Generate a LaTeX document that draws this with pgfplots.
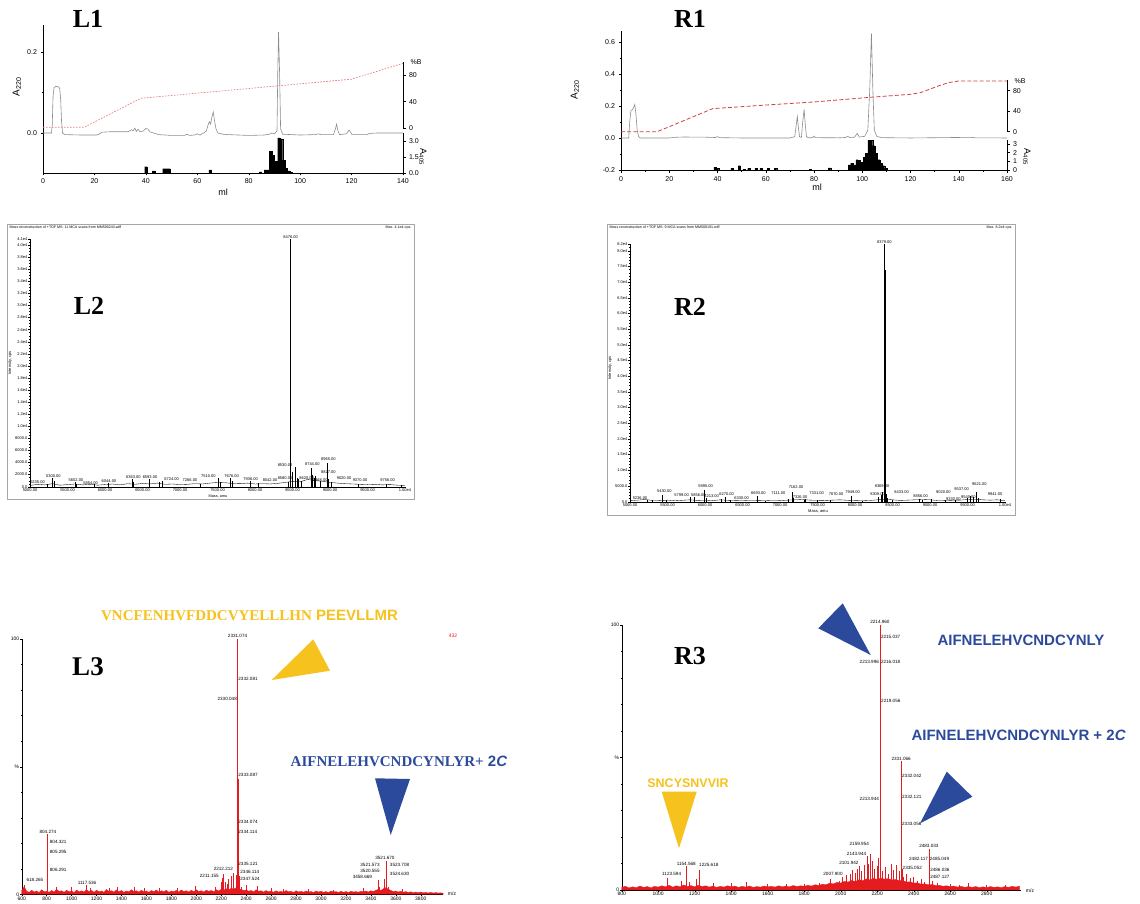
\documentclass[border=0pt]{standalone}
\usepackage{fontspec}
\setmainfont{Liberation Sans}
\newfontfamily\tnr{Liberation Serif}
\usepackage{pgfplots}
\pgfplotsset{compat=1.18}
\definecolor{chrom}{RGB}{140,140,140}
\definecolor{pinkd}{RGB}{228,128,128}
\definecolor{redd}{RGB}{205,65,65}
\definecolor{msred}{RGB}{228,28,32}
\definecolor{yel}{RGB}{245,194,30}
\definecolor{blu}{RGB}{44,74,156}
\pgfplotsset{
 base/.style={scale only axis, anchor=south west, axis line style={-,line width=0.5pt}, tick align=outside,
   major tick length=2.5pt, minor tick length=1.3pt, tick style={line width=0.4pt,black},
   /pgf/number format/assume math mode=true, /pgf/number format/set thousands separator={}, scaled ticks=false, clip=false},
 hplc/.style={base, tick label style={font=\fontsize{7}{8}\selectfont}, axis x line*=bottom, axis y line*=left},
 hplcR/.style={base, tick label style={font=\fontsize{7}{8}\selectfont}, axis y line*=right, axis x line=none, xtick=\empty},
 ms/.style={base, axis x line*=bottom, axis y line*=left, tick label style={font=\fontsize{4}{4}\selectfont},
   major tick length=1.6pt, minor tick length=0.9pt, tick style={line width=0.3pt}, axis line style={-,line width=0.4pt},
   xticklabel style={inner sep=0.6pt}, yticklabel style={inner sep=0.8pt}},
}
\tikzset{
 pl/.style={font=\fontsize{4}{4}\selectfont, inner sep=0.3pt},
 pl3/.style={font=\fontsize{4.6}{4.6}\selectfont, inner sep=0.3pt},
}
\begin{document}
\begin{tikzpicture}[x=1pt,y=1pt]
\path[use as bounding box] (0,0) rectangle (1140,-904);

%================ L1 =================
\begin{axis}[hplc, at={(43pt,-173pt)}, width=360pt, height=148pt, xmin=0, xmax=140, ymin=-0.0988, ymax=0.2667,
  xtick={0,20,...,140}, minor x tick num=1, ytick={0,0.2}, yticklabels={0.0,0.2}, minor ytick={-0.1,0.1}]
\addplot[chrom, line width=0.6pt] coordinates {(0,0.0)(3.3,0.0)(3.6,0.02)(3.9,0.09)(4.3,0.112)(5,0.115)(6,0.114)(6.5,0.11)(6.9,0.08)(7.2,0.03)(7.6,0.0)(8.5,-0.004)(15,-0.005)(21,-0.005)(22,-0.002)(23,0.002)(26,0.003)(30,0.003)(33,0.003)(34.5,0.008)(35,0.005)(35.7,0.012)(36.3,0.004)(37,0.009)(37.7,0.003)(39,0.005)(40,0.011)(40.8,0.01)(41.5,0.003)(43,0.0)(45,-0.004)(50,-0.006)(55,-0.006)(56,-0.003)(57,-0.006)(59,-0.005)(60,-0.002)(61,-0.005)(62.5,0.0)(63.5,0.005)(64.2,0.02)(64.7,0.028)(65.2,0.022)(65.7,0.04)(66.2,0.052)(66.7,0.03)(67.3,0.01)(68,0.0)(70,-0.003)(72,-0.004)(80,-0.006)(86,-0.005)(88,-0.003)(89,0.0)(90,-0.002)(91,0.005)(91.3,0.15)(91.6,0.25)(92,0.15)(92.4,0.01)(93.2,-0.003)(100,-0.005)(106,-0.004)(107,-0.002)(108,-0.004)(113,-0.004)(113.7,0.01)(114.2,0.022)(114.7,0.006)(115.3,-0.004)(118,-0.002)(119,0.007)(119.6,0.002)(120.2,-0.004)(126,-0.004)(127,-0.001)(130,0.0)(140,0.0)};
\end{axis}
\begin{axis}[hplcR, at={(43pt,-128pt)}, width=360pt, height=66pt, xmin=0, xmax=140, ymin=0, ymax=100,
  ytick={0,40,80}, minor ytick={20,60}]
\addplot[pinkd, line width=0.7pt, dash pattern=on 1.6pt off 1.4pt] coordinates {(0,1)(16,1)(38,45)(120,74)(140,98)};
\end{axis}
\begin{axis}[hplcR, at={(43pt,-173pt)}, width=360pt, height=40pt, xmin=0, xmax=140, ymin=0, ymax=3.75,
  ytick={0,1.5,3}, yticklabels={0.0,1.5,3.0}, minor ytick={0.75,2.25}]
\addplot[ybar, bar width=0.95, fill=black, draw=black, line width=0.1pt] coordinates {(40,0.6)(43,0.2)(47,0.4)(48,0.4)(49,0.4)(65,0.3)(84.5,0.1)(86.5,0.3)(87.5,0.3)(88.5,2.05)(89.5,1.66)(90.5,1.1)(91.7,3.3)(92.7,3.2)(93.7,1.2)(94.6,0.45)(95.5,0.2)(96.5,0.08)};
\end{axis}
\node[font=\tnr\bfseries\fontsize{26}{26}\selectfont] at (88,-19) {L1};
\node[rotate=90, font=\fontsize{10}{10}\selectfont] at (17,-87) {A\textsubscript{220}};
\node[rotate=-90, font=\fontsize{9}{9}\selectfont] at (423,-157) {A\textsubscript{405}};
\node[font=\fontsize{7}{7}\selectfont, anchor=west] at (407,-62) {\%B};
\node[font=\fontsize{9}{9}\selectfont] at (223,-192) {ml};

%================ R1 =================
\begin{axis}[hplc, at={(621pt,-170.5pt)}, width=386pt, height=139.5pt, xmin=0, xmax=160, ymin=-0.2, ymax=0.6665,
  xtick={0,20,...,160}, minor x tick num=1, ytick={-0.2,0,0.2,0.4,0.6}, yticklabels={-0.2,0.0,0.2,0.4,0.6}, minor ytick={-0.1,0.1,0.3,0.5}]
\addplot[chrom, line width=0.6pt] coordinates {(0,0.002)(3.2,0.002)(3.6,0.1)(4.1,0.172)(4.7,0.178)(5.2,0.19)(5.7,0.21)(6.2,0.15)(6.7,0.05)(7.3,0.01)(8,0.002)(20,0.002)(22,0.006)(26,0.008)(35,0.007)(39,0.005)(40,0.01)(41,0.004)(50,0.002)(70,0.002)(72,0.01)(72.6,0.08)(73.1,0.135)(73.5,0.07)(74,0.01)(74.8,0.006)(75.3,0.1)(75.9,0.18)(76.4,0.08)(76.9,0.01)(77.8,0.003)(79.5,0.004)(80,0.014)(80.5,0.004)(90,0.003)(93,0.005)(94,0.012)(94.8,0.005)(96.8,0.007)(97.9,0.03)(98.8,0.008)(101,0.012)(102.3,0.05)(103.1,0.3)(103.8,0.652)(104.4,0.3)(105,0.05)(106,0.012)(108,0.004)(120,0.002)(145,0.006)(147,0.003)(160,0.002)};
\end{axis}
\begin{axis}[hplcR, at={(621pt,-131.7pt)}, width=386pt, height=51.25pt, xmin=0, xmax=160, ymin=0, ymax=100,
  ytick={0,40,80}, minor ytick={20,60}]
\addplot[redd, line width=0.8pt, dash pattern=on 4pt off 2.2pt] coordinates {(0,0)(15,0)(38,45)(60,52)(80,58)(103,67)(120,73)(124,76)(128,83)(132,90)(136,96)(140,99)(160,99)};
\end{axis}
\begin{axis}[hplcR, at={(621pt,-170pt)}, width=386pt, height=30pt, xmin=0, xmax=160, ymin=0, ymax=3.46,
  ytick={0,1,2,3}]
\addplot[ybar, bar width=0.95, fill=black, draw=black, line width=0.1pt] coordinates {(39,0.3)(40,0.2)(46,0.2)(49,0.5)(51,0.1)(53,0.2)(56,0.2)(58,0.2)(61,0.2)(64,0.2)(78.5,0.1)(86.4,0.25)(94.7,0.6)(95.7,0.8)(96.7,0.6)(97.8,1.2)(98.8,1.1)(99.8,0.9)(100.8,1.45)(101.8,1.9)(102.8,3.45)(103.8,3.45)(104.8,2.8)(105.8,1.9)(106.8,1.2)(107.8,0.8)(108.8,0.5)(109.8,0.2)};
\end{axis}
\node[font=\tnr\bfseries\fontsize{26}{26}\selectfont] at (690,-19) {R1};
\node[rotate=90, font=\fontsize{10}{10}\selectfont] at (575,-90) {A\textsubscript{220}};
\node[rotate=-90, font=\fontsize{9}{9}\selectfont] at (1027,-157) {A\textsubscript{405}};
\node[font=\fontsize{7}{7}\selectfont, anchor=west] at (1011,-81) {\%B};
\node[font=\fontsize{9}{9}\selectfont] at (817,-187) {ml};

%================ L2 =================
\draw[gray!70, line width=0.8pt] (7,-224) rectangle (414,-499);
\node[font=\fontsize{3.6}{4}\selectfont, anchor=north west, inner sep=0.5pt] at (9,-225) {Mass reconstruction of +TOF MS: 11 MCA scans from MM500243.wiff};
\node[font=\fontsize{3.6}{4}\selectfont, anchor=north east, inner sep=0.5pt] at (412,-225) {Max. 4.1e4 cps.};
\begin{axis}[ms, at={(30pt,-486.7pt)}, width=375pt, height=247.7pt, xmin=5000, xmax=10000, ymin=0, ymax=41000,
  xtick={5000,5500,6000,6500,7000,7500,8000,8500,9000,9500,10000}, xticklabels={5000.00,5500.00,6000.00,6500.00,7000.00,7500.00,8000.00,8500.00,9000.00,9500.00,1.00e4},
  minor x tick num=4,
  ytick={0,2000,4000,6000,8000,10000,12000,14000,16000,18000,20000,22000,24000,26000,28000,30000,32000,34000,36000,38000,40000,41000}, yticklabels={0.0,2000.0,4000.0,6000.0,8000.0,1.0e4,1.2e4,1.4e4,1.6e4,1.8e4,2.0e4,2.2e4,2.4e4,2.6e4,2.8e4,3.0e4,3.2e4,3.4e4,3.6e4,3.8e4,4.0e4,4.1e4},
  minor ytick={500,1000,1500,2500,3000,3500,4500,5000,5500,6500,7000,7500,8500,9000,9500,10500,11000,11500,12500,13000,13500,14500,15000,15500,16500,17000,17500,18500,19000,19500,20500,21000,21500,22500,23000,23500,24500,25000,25500,26500,27000,27500,28500,29000,29500,30500,31000,31500,32500,33000,33500,34500,35000,35500,36500,37000,37500,38500,39000,39500,40500}]
\addplot[black, line width=0.35pt] coordinates {(5000,200)(5100,400)(5200,300)(5300,500)(5400,250)(5500,350)(5600,450)(5700,300)(5800,400)(5900,250)(6000,350)(6100,450)(6200,300)(6300,500)(6400,400)(6500,550)(6600,450)(6700,600)(6800,400)(6900,450)(7000,350)(7100,400)(7200,500)(7300,450)(7400,600)(7500,700)(7600,650)(7700,550)(7800,500)(7900,600)(8000,450)(8100,500)(8200,450)(8300,550)(8400,700)(8500,900)(8600,800)(8700,1200)(8800,1000)(8900,900)(9000,700)(9100,600)(9200,500)(9300,450)(9400,400)(9500,350)(9600,400)(9700,300)(9800,350)(9900,250)(10000,200)};
\addplot[ycomb, black, line width=0.45pt] coordinates {(5235,500)(5300,1400)(5320,900)(5602,700)(5620,400)(5854,500)(6044,600)(6363,1300)(6380,800)(6593,1300)(6724,700)(6760,900)(7266,500)(7510,1400)(7540,800)(7676,1500)(7690,1000)(7936,900)(8042,600)(8440,700)(8466,1800)(8476,41000)(8490,2500)(8530,3300)(8560,1500)(8580,1200)(8620,900)(8744,3100)(8752,3100)(8760,2000)(8790,1500)(8807,1700)(8868,1000)(8965,4000)(8980,1200)(9020,700)(9370,400)(9756,400)(9950,300)};
\node[pl, anchor=south] at (8476,41000) {8476.00};
\node[pl, anchor=south] at (5100,500) {5235.00};
\node[pl, anchor=south] at (5311,1400) {5300.00};
\node[pl, anchor=south] at (5613,850) {5602.00};
\node[pl, anchor=south] at (5809,350) {5854.00};
\node[pl, anchor=south] at (6053,650) {6044.00};
\node[pl, anchor=south] at (6378,1300) {6363.00};
\node[pl, anchor=south] at (6600,1300) {6593.00};
\node[pl, anchor=south] at (6889,900) {6724.00};
\node[pl, anchor=south] at (7133,700) {7266.00};
\node[pl, anchor=south] at (7378,1400) {7510.00};
\node[pl, anchor=south] at (7689,1500) {7676.00};
\node[pl, anchor=south] at (7942,1000) {7936.00};
\node[pl, anchor=south] at (8200,700) {8042.00};
\node[pl, anchor=south] at (8400,3300) {8530.00};
\node[pl, anchor=south] at (8400,1100) {8580.00};
\node[pl, anchor=south] at (8689,1150) {8620.00};
\node[pl, anchor=south] at (8764,3450) {8744.00};
\node[pl, anchor=south] at (8978,4250) {8965.00};
\node[pl, anchor=south] at (8978,2100) {8827.00};
\node[pl, anchor=south] at (8870,850) {8868.00};
\node[pl, anchor=south] at (9187,1100) {9020.00};
\node[pl, anchor=south] at (9400,700) {9370.00};
\node[pl, anchor=south] at (9769,700) {9756.00};
\end{axis}
\node[font=\fontsize{3.8}{4}\selectfont, inner sep=0.3pt] at (218,-496.2) {Mass, amu};
\node[font=\fontsize{4}{4}\selectfont, rotate=90] at (10,-363) {Intensity, cps};
\node[font=\tnr\bfseries\fontsize{26}{26}\selectfont] at (89,-306) {L2};

%================ R2 =================
\draw[gray!70, line width=0.8pt] (607,-224) rectangle (1015,-515);
\node[font=\fontsize{3.6}{4}\selectfont, anchor=north west, inner sep=0.5pt] at (609,-225) {Mass reconstruction of +TOF MS: 9 MCA scans from MM500191.wiff};
\node[font=\fontsize{3.6}{4}\selectfont, anchor=north east, inner sep=0.5pt] at (1013,-225) {Max. 8.2e4 cps.};
\begin{axis}[ms, at={(630pt,-501.7pt)}, width=375pt, height=257.3pt, xmin=5000, xmax=10000, ymin=0, ymax=82000,
  xtick={5000,5500,6000,6500,7000,7500,8000,8500,9000,9500,10000}, xticklabels={5000.00,5500.00,6000.00,6500.00,7000.00,7500.00,8000.00,8500.00,9000.00,9500.00,1.00e4},
  minor x tick num=4,
  ytick={0,5000,10000,15000,20000,25000,30000,35000,40000,45000,50000,55000,60000,65000,70000,75000,80000,82000}, yticklabels={0.0,5000.0,1.0e4,1.5e4,2.0e4,2.5e4,3.0e4,3.5e4,4.0e4,4.5e4,5.0e4,5.5e4,6.0e4,6.5e4,7.0e4,7.5e4,8.0e4,8.2e4},
  minor ytick={1000,2000,3000,4000,6000,7000,8000,9000,11000,12000,13000,14000,16000,17000,18000,19000,21000,22000,23000,24000,26000,27000,28000,29000,31000,32000,33000,34000,36000,37000,38000,39000,41000,42000,43000,44000,46000,47000,48000,49000,51000,52000,53000,54000,56000,57000,58000,59000,61000,62000,63000,64000,66000,67000,68000,69000,71000,72000,73000,74000,76000,77000,78000,79000,81000}]
\addplot[black, line width=0.35pt] coordinates {(5000,300)(5100,500)(5200,700)(5300,400)(5400,350)(5500,500)(5600,300)(5700,450)(5800,600)(5900,400)(6000,500)(6100,350)(6200,600)(6300,450)(6400,350)(6500,300)(6600,400)(6700,350)(6800,300)(6900,400)(7000,350)(7100,500)(7200,600)(7300,700)(7400,500)(7500,450)(7600,400)(7700,500)(7800,600)(7900,450)(8000,350)(8100,300)(8200,400)(8300,600)(8400,800)(8500,600)(8600,400)(8700,500)(8800,600)(8900,700)(9000,600)(9100,400)(9200,350)(9300,450)(9400,500)(9500,700)(9600,800)(9700,600)(9800,500)(9900,600)(10000,300)};
\addplot[ycomb, black, line width=0.45pt] coordinates {(5236,600)(5300,500)(5430,2000)(5480,400)(5799,1400)(5856,1500)(5995,3800)(6010,1200)(6213,900)(6270,1500)(6330,500)(6693,1900)(6800,300)(7111,900)(7162,3200)(7180,1200)(7326,700)(7331,1000)(7500,500)(7670,600)(7949,1900)(8100,300)(8309,1400)(8350,2200)(8369,3000)(8392,82000)(8398,74000)(8410,2500)(8433,1200)(8500,600)(8856,900)(8900,500)(9020,800)(9200,500)(9330,500)(9500,1300)(9537,1800)(9580,1500)(9621,3000)(9640,1200)(9941,900)};
\node[pl, anchor=south] at (8392,82000) {8379.00};
\node[pl, anchor=south] at (5133,600) {5236.00};
\node[pl, anchor=south] at (5457,2700) {5430.00};
\node[pl, anchor=south] at (5689,1400) {5799.00};
\node[pl, anchor=south] at (5911,1400) {5856.00};
\node[pl, anchor=south] at (6009,4500) {5995.00};
\node[pl, anchor=south] at (6089,1100) {6213.00};
\node[pl, anchor=south] at (6289,1900) {6270.00};
\node[pl, anchor=south] at (6489,650) {6330.00};
\node[pl, anchor=south] at (6711,2100) {6693.00};
\node[pl, anchor=south] at (6978,2100) {7111.00};
\node[pl, anchor=south] at (7213,4000) {7162.00};
\node[pl, anchor=south] at (7267,800) {7326.00};
\node[pl, anchor=south] at (7489,2100) {7331.00};
\node[pl, anchor=south] at (7747,1700) {7670.00};
\node[pl, anchor=south] at (7969,2300) {7949.00};
\node[pl, anchor=south] at (8360,4500) {8369.00};
\node[pl, anchor=south] at (8300,1700) {8309.00};
\node[pl, anchor=south] at (8622,2400) {8433.00};
\node[pl, anchor=south] at (8876,1100) {8856.00};
\node[pl, anchor=south] at (9178,2400) {9020.00};
\node[pl, anchor=south] at (9311,350) {9330.00};
\node[pl, anchor=south] at (9511,1000) {9540.00};
\node[pl, anchor=south] at (9422,3300) {9537.00};
\node[pl, anchor=south] at (9658,5000) {9621.00};
\node[pl, anchor=south] at (9867,1700) {9941.00};
\end{axis}
\node[font=\fontsize{4}{4}\selectfont, inner sep=0.3pt] at (818,-511) {Mass, amu};
\node[font=\fontsize{4}{4}\selectfont, rotate=90] at (610,-368) {Intensity, cps};
\node[font=\tnr\bfseries\fontsize{26}{26}\selectfont] at (690,-307) {R2};

%================ L3 =================
\begin{axis}[ms, at={(21.7pt,-894.3pt)}, width=421.5pt, height=255.3pt, xmin=600, xmax=3980, ymin=0, ymax=100,
  tick label style={font=\fontsize{5}{5}\selectfont},
  xtick={600,800,...,3800}, minor x tick num=3, ytick={0,50,100}, yticklabels={0,\%,100}, minor y tick num=4]
\addplot[fill=msred, draw=msred, line width=0.3pt] coordinates {(600,0)(600,1.5)(620,3.0)(640,1.2)(660,0.8)(680,1.6)(700,0.9)(720,1.3)(740,0.7)(760,1.8)(780,1.0)(800,1.2)(820,0.8)(840,1.5)(860,0.9)(880,2.0)(900,1.1)(920,1.4)(940,0.8)(960,1.6)(980,1.0)(1000,1.3)(1020,0.7)(1040,1.7)(1060,1.0)(1080,1.4)(1100,0.9)(1120,1.8)(1140,1.1)(1160,1.5)(1180,0.8)(1200,1.6)(1220,1.0)(1240,1.3)(1260,0.8)(1280,1.9)(1300,1.1)(1320,1.4)(1340,0.9)(1360,1.7)(1380,1.0)(1400,1.5)(1420,0.8)(1440,1.3)(1460,1.0)(1480,1.8)(1500,1.1)(1520,1.4)(1540,0.9)(1560,1.6)(1580,1.0)(1600,1.3)(1620,0.8)(1640,1.5)(1660,1.0)(1680,1.7)(1700,0.9)(1720,1.4)(1740,1.0)(1760,1.6)(1780,0.8)(1800,1.3)(1820,1.0)(1840,1.5)(1860,0.9)(1880,1.7)(1900,1.1)(1920,1.4)(1940,0.9)(1960,1.6)(1980,1.0)(2000,1.8)(2020,1.1)(2040,1.4)(2060,0.9)(2080,1.6)(2100,1.2)(2120,1.5)(2140,1.0)(2160,1.8)(2180,1.3)(2200,2.0)(2220,1.6)(2240,2.2)(2260,1.7)(2280,2.4)(2300,2.0)(2320,2.6)(2340,2.2)(2360,1.9)(2380,1.5)(2400,1.7)(2420,1.2)(2440,1.5)(2460,1.0)(2480,1.8)(2500,1.2)(2520,1.4)(2540,0.9)(2560,1.5)(2580,1.0)(2600,1.3)(2620,0.8)(2640,1.4)(2660,0.9)(2680,1.2)(2700,0.8)(2720,1.5)(2740,1.0)(2760,1.2)(2780,0.7)(2800,1.4)(2820,0.9)(2840,1.2)(2860,0.8)(2880,1.3)(2900,0.9)(2920,1.1)(2940,0.7)(2960,1.3)(2980,0.9)(3000,1.2)(3020,0.8)(3040,1.1)(3060,0.7)(3080,1.3)(3100,0.9)(3120,1.1)(3140,0.7)(3160,1.2)(3180,0.8)(3200,1.1)(3220,0.7)(3240,1.2)(3260,0.9)(3280,1.1)(3300,0.8)(3320,1.2)(3340,1.0)(3360,1.3)(3380,0.9)(3400,1.4)(3420,1.1)(3440,1.6)(3460,1.9)(3480,1.5)(3500,2.2)(3520,2.6)(3540,2.0)(3560,1.5)(3580,1.1)(3600,1.3)(3620,0.9)(3640,1.2)(3660,0.8)(3680,1.1)(3700,0.7)(3720,1.0)(3740,0.6)(3760,0.9)(3780,0.6)(3800,0.9)(3820,0.6)(3840,0.8)(3860,0.5)(3880,0.8)(3900,0.5)(3920,0.7)(3940,0.5)(3960,0.6)(3980,0.4)(3980,0)};
\addplot[ycomb, msred, line width=0.5pt] coordinates {(618,3.5)(804.3,23.5)(805.3,15)(806.3,9)(880,3)(1000,2.8)(1117.5,3.5)(1150,2.5)(1300,2.5)(1370,2.7)(1500,3.0)(1580,2.4)(1700,2.6)(1850,2.3)(1990,3.2)(2150,3.0)(2200,5)(2211.2,6.5)(2212.2,8)(2230,5)(2245,4)(2260,6)(2280,7)(2300,8.5)(2320,7.5)(2330,75)(2331.1,100)(2332.1,84)(2333.1,45)(2334.1,22)(2335.1,10)(2346,7)(2347.5,4.5)(2360,3)(2400,3.5)(2490,3.2)(2600,2.3)(2700,2.0)(2900,2.0)(3100,1.8)(3340,2.5)(3458.7,5.5)(3470,3)(3510,6)(3520.6,9)(3521.6,13)(3523.7,10)(3524.6,6)(3540,3)(3650,2.2)};
\node[pl3, anchor=south] at (2331,100.3) {2331.074};
\node[pl3, anchor=west] at (2334,84.5) {2332.081};
\node[pl3, anchor=east] at (2329,76.5) {2330.048};
\node[pl3, anchor=west] at (2334,46.7) {2333.087};
\node[pl3, anchor=west] at (2334,28.3) {2334.074};
\node[pl3, anchor=west] at (2334,24.5) {2334.114};
\node[pl3, anchor=west] at (2334,12.1) {2335.121};
\node[pl3, anchor=west] at (2350,8.9) {2346.114};
\node[pl3, anchor=west] at (2350,5.9) {2347.524};
\node[pl3, anchor=east] at (2298,9.8) {2212.212};
\node[pl3, anchor=east] at (2184,7.2) {2211.155};
\node[pl3] at (810,24.3) {804.274};
\node[pl3] at (893,20.5) {804.321};
\node[pl3] at (893,16.6) {805.295};
\node[pl3] at (893,9.5) {806.291};
\node[pl3] at (706,5.6) {618.265};
\node[pl3] at (1124,4.3) {1117.536};
\node[pl3] at (3513,14.3) {3521.670};
\node[pl3] at (3393,11.5) {3521.573};
\node[pl3] at (3630,11.5) {3523.708};
\node[pl3] at (3393,9.3) {3520.555};
\node[pl3] at (3630,7.8) {3524.630};
\node[pl3] at (3332,6.7) {3458.669};
\end{axis}
\node[font=\fontsize{5}{5}\selectfont] at (452,-894) {m/z};
\node[font=\fontsize{5}{5}\selectfont, text=msred] at (453,-636) {432};
\node[font=\tnr\bfseries\fontsize{27}{27}\selectfont] at (88,-667) {L3};
\node[text=yel, font=\fontsize{15}{15}\selectfont] at (249.5,-615) {{\tnr\bfseries VNCFENHVFDDCVYELLLHN} \textbf{PEEVLLMR}};
\node[text=blu, font=\fontsize{15}{15}\selectfont] at (399,-761) {{\tnr\bfseries AIFNELEHVCNDCYNLYR+} \textbf{2\textit{C}}};
\fill[yel] (271.7,-680) -- (313.3,-639.3) -- (330,-670.7) -- cycle;
\fill[blu] (375,-778.3) -- (410,-779) -- (390.7,-835) -- cycle;

%================ R3 =================
\begin{axis}[ms, at={(621.7pt,-890pt)}, width=399.7pt, height=265pt, xmin=800, xmax=2990, ymin=0, ymax=100,
  tick label style={font=\fontsize{5}{5}\selectfont},
  xtick={800,1000,...,2800}, minor x tick num=3, ytick={0,50,100}, yticklabels={0,\%,100}, minor y tick num=4]
\addplot[fill=msred, draw=msred, line width=0.3pt] coordinates {(800,0)(800,1.0)(820,1.4)(840,0.8)(860,1.2)(880,0.9)(900,1.5)(920,1.0)(940,1.3)(960,0.8)(980,1.4)(1000,1.1)(1020,1.6)(1040,1.2)(1060,1.8)(1080,1.1)(1100,1.6)(1120,1.2)(1140,1.9)(1160,1.3)(1180,1.7)(1200,1.2)(1220,1.8)(1240,1.3)(1260,1.6)(1280,1.1)(1300,1.5)(1320,1.0)(1340,1.4)(1360,1.1)(1380,1.6)(1400,1.2)(1420,1.5)(1440,1.0)(1460,1.4)(1480,1.1)(1500,1.5)(1520,1.0)(1540,1.3)(1560,1.1)(1580,1.5)(1600,1.2)(1620,1.4)(1640,1.1)(1660,1.6)(1680,1.2)(1700,1.5)(1720,1.2)(1740,1.7)(1760,1.3)(1780,1.6)(1800,1.4)(1820,1.8)(1840,1.5)(1860,2.0)(1880,1.7)(1900,2.2)(1920,2.0)(1940,2.6)(1960,2.3)(1980,2.9)(2000,2.6)(2020,3.3)(2040,3.0)(2060,3.6)(2080,3.2)(2100,3.9)(2120,3.5)(2140,4.2)(2160,3.8)(2180,4.4)(2200,4.0)(2220,4.5)(2240,4.1)(2260,4.3)(2280,3.8)(2300,4.0)(2320,3.5)(2340,3.6)(2360,3.0)(2380,3.1)(2400,2.6)(2420,2.7)(2440,2.2)(2460,2.3)(2480,2.0)(2500,2.1)(2520,1.7)(2540,1.8)(2560,1.4)(2580,1.6)(2600,1.3)(2620,1.5)(2640,1.1)(2660,1.4)(2680,1.0)(2700,1.3)(2720,1.0)(2740,1.3)(2760,0.9)(2780,1.2)(2800,0.9)(2820,1.3)(2840,1.0)(2860,1.2)(2880,0.9)(2900,1.3)(2920,1.0)(2940,1.4)(2960,1.1)(2980,1.5)(2980,0)};
\addplot[ycomb, msred, line width=0.5pt] coordinates {(1050,4.5)(1123.6,3.5)(1154.6,9)(1170,3)(1210,4)(1225.6,7.5)(1300,2.5)(1400,2.8)(1480,3.0)(1600,2.2)(1700,2.4)(1800,2.3)(1880,2.8)(1945,4.2)(1990,3.5)(2007.9,5)(2030,5.5)(2050,6)(2065,7.5)(2080,6.5)(2090,8)(2101.9,9)(2115,7)(2130,9.5)(2143.9,13)(2152,10)(2159.9,13.5)(2170,11)(2185,8)(2200,9)(2207,12)(2213.9,30)(2214.96,100)(2216,86)(2219,10)(2230,7)(2245,8.5)(2260,6)(2275,10)(2290,7.5)(2305,9.5)(2318,7)(2331.07,48.5)(2332,43)(2335,8)(2345,5)(2360,6)(2380,4.5)(2400,5)(2420,3.5)(2440,4)(2460,3)(2483,15.5)(2485,11)(2487,4.5)(2500,3.5)(2530,2.5)(2600,2.2)(2650,2.0)(2700,2.5)(2800,2.0)(2900,1.8)};
\node[pl3, anchor=south] at (2215,100.3) {2214.960};
\node[pl3, anchor=west] at (2218,95.4) {2215.037};
\node[pl3, anchor=east] at (2212,86.2) {2213.996};
\node[pl3, anchor=west] at (2218,86.2) {2216.018};
\node[pl3, anchor=west] at (2219,71.3) {2219.056};
\node[pl3, anchor=east] at (2212,34.2) {2213.944};
\node[pl3, anchor=south] at (2331,48.7) {2331.066};
\node[pl3, anchor=west] at (2334,43) {2332.042};
\node[pl3, anchor=west] at (2334,35.2) {2332.121};
\node[pl3, anchor=west] at (2334,24.9) {2333.056};
\node[pl3, anchor=west] at (2337,8.4) {2335.052};
\node[pl3, anchor=south] at (2483,15.8) {2483.033};
\node[pl3, anchor=east] at (2481,11.7) {2482.117};
\node[pl3, anchor=west] at (2486,11.7) {2485.049};
\node[pl3, anchor=west] at (2488,7.5) {2486.036};
\node[pl3, anchor=west] at (2488,4.8) {2487.127};
\node[pl3, anchor=east] at (2157,17.4) {2159.954};
\node[pl3, anchor=east] at (2142,13.8) {2143.944};
\node[pl3, anchor=east] at (2100,10.4) {2101.942};
\node[pl3, anchor=east] at (2013,6) {2007.900};
\node[pl3, anchor=east] at (1128,6) {1123.594};
\node[pl3, anchor=south] at (1154,9.2) {1154.568};
\node[pl3, anchor=south west] at (1222,8.6) {1225.618};
\end{axis}
\node[font=\fontsize{5}{5}\selectfont] at (1030,-891) {m/z};
\node[font=\tnr\bfseries\fontsize{26}{26}\selectfont] at (690,-656) {R3};
\node[text=blu, font=\bfseries\fontsize{15}{15}\selectfont] at (1021,-640) {AIFNELEHVCNDCYNLY};
\node[text=blu, font=\bfseries\fontsize{15}{15}\selectfont, anchor=west] at (908,-735) {AIFNELEHVCNDCYNLYR + 2\textit{C}};
\node[text=yel, font=\bfseries\fontsize{12.5}{12.5}\selectfont] at (688,-783) {SNCYSNVVIR};
\fill[blu] (818.3,-628.3) -- (842.7,-603.3) -- (870.7,-655) -- cycle;
\fill[blu] (920,-823.3) -- (946.7,-771.7) -- (972.3,-796.7) -- cycle;
\fill[yel] (661.7,-791.7) -- (696.7,-791.7) -- (679,-848.3) -- cycle;
\end{tikzpicture}
\end{document}
